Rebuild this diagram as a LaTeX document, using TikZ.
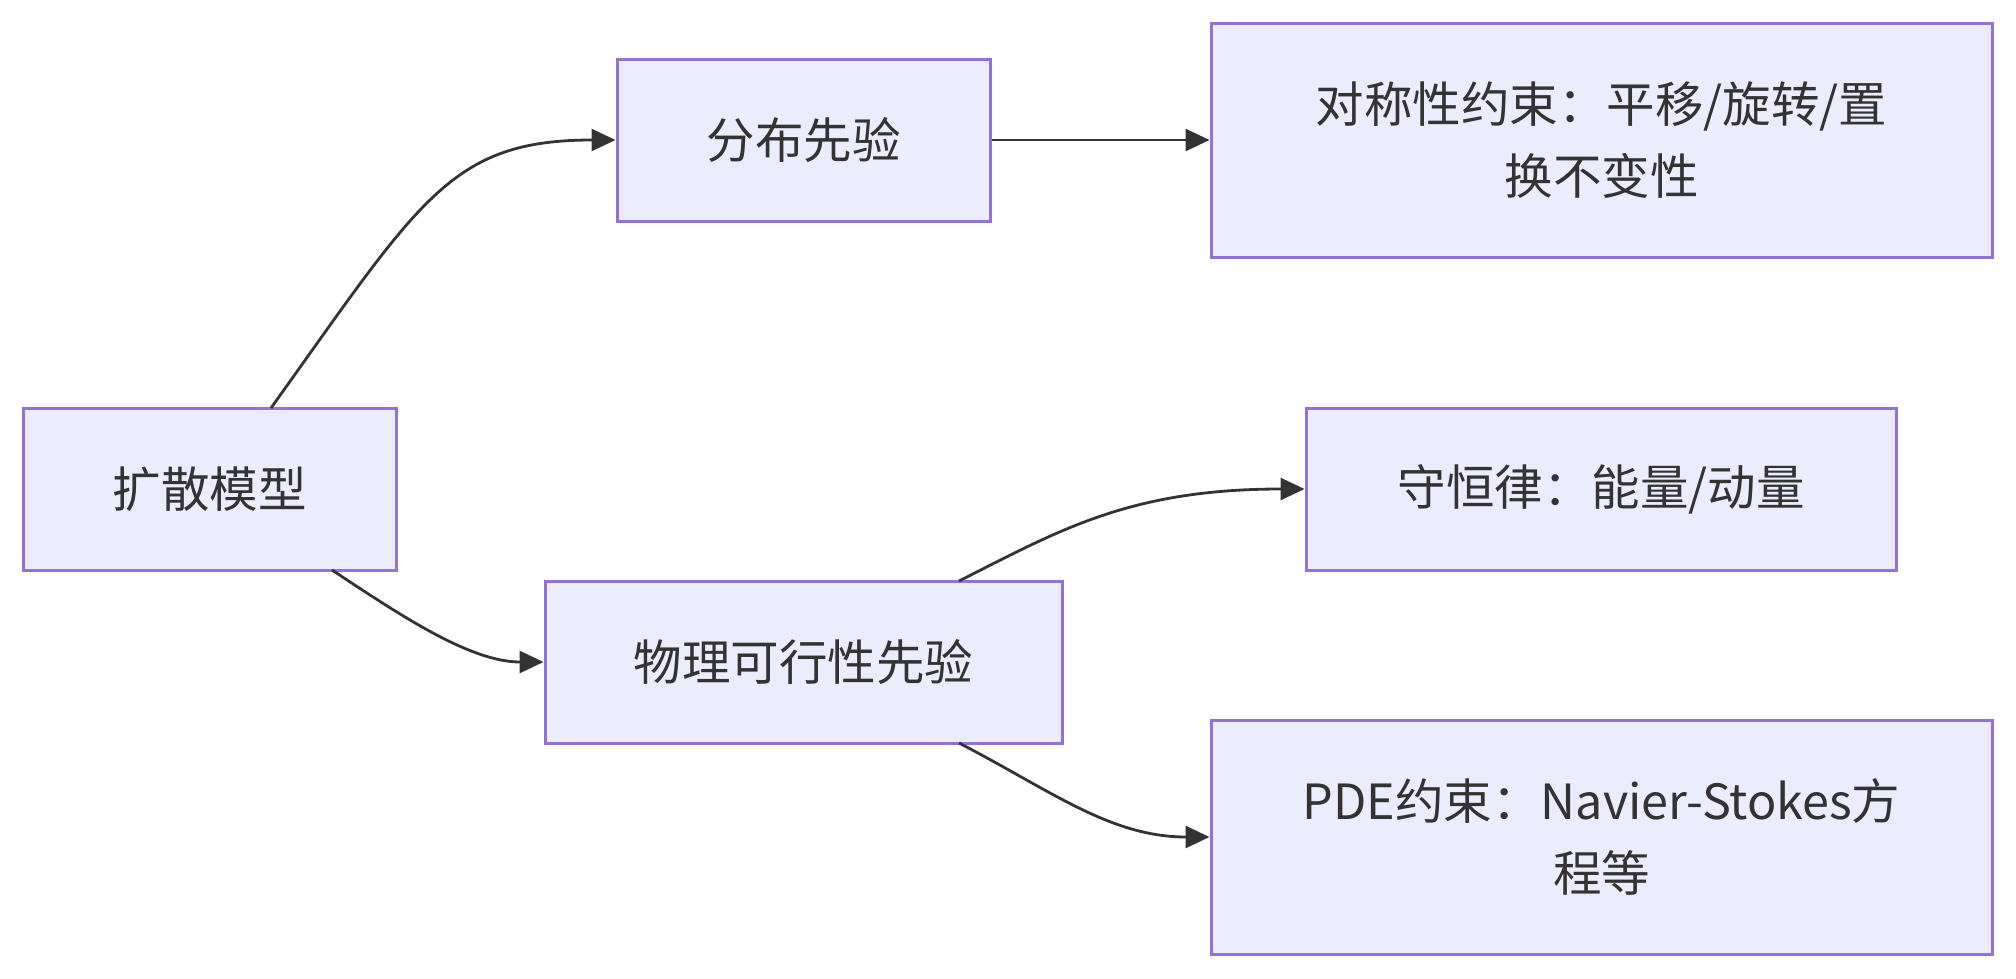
\documentclass[tikz,border=0pt]{standalone}
\usepackage{fontspec}
\setmainfont{Noto Sans CJK SC}
\usetikzlibrary{arrows.meta}
\definecolor{boxfill}{HTML}{ECECFF}
\definecolor{boxline}{HTML}{9370DB}
\definecolor{edgecol}{HTML}{333333}
\tikzset{
  flowbox/.style={draw=boxline, fill=boxfill, line width=3pt, rectangle, inner sep=0pt,
    align=center, text=edgecol, font=\fontsize{48.5}{72}\selectfont},
  flowedge/.style={draw=edgecol, line width=2.8pt, -{Triangle[length=24pt,width=22pt]}}
}
\begin{document}
\begin{tikzpicture}[x=1pt,y=-1pt]
\useasboundingbox (0,0) rectangle (2016,978);
\node[flowbox, minimum width=373pt, minimum height=162pt] (A) at (209.5,489) {扩散模型};
\node[flowbox, minimum width=373pt, minimum height=162pt] (B) at (803.5,140) {分布先验};
\node[flowbox, minimum width=517pt, minimum height=162pt] (C) at (803.5,662) {物理可行性先验};
\node[flowbox, minimum width=781pt, minimum height=234pt] (D) at (1601.5,140) {对称性约束：平移/旋转/置\\换不变性};
\node[flowbox, minimum width=590pt, minimum height=162pt] (E) at (1601,489) {守恒律：能量/动量};
\node[flowbox, minimum width=781pt, minimum height=234pt] (F) at (1601.5,837) {PDE约束：Navier-Stokes方\\程等};
\coordinate (a1) at (271,408);
\coordinate (a2) at (332,570);
\coordinate (c1) at (959,581);
\coordinate (c2) at (959,743);
\draw[flowedge] (a1) .. controls (420,200) and (450,140) .. (B.west);
\draw[flowedge] (a2) .. controls (400,615) and (470,662) .. (C.west);
\draw[flowedge] (B.east) -- (D.west);
\draw[flowedge] (c1) .. controls (1060,530) and (1130,489) .. (E.west);
\draw[flowedge] (c2) .. controls (1050,790) and (1110,837) .. (F.west);
\end{tikzpicture}
\end{document}
